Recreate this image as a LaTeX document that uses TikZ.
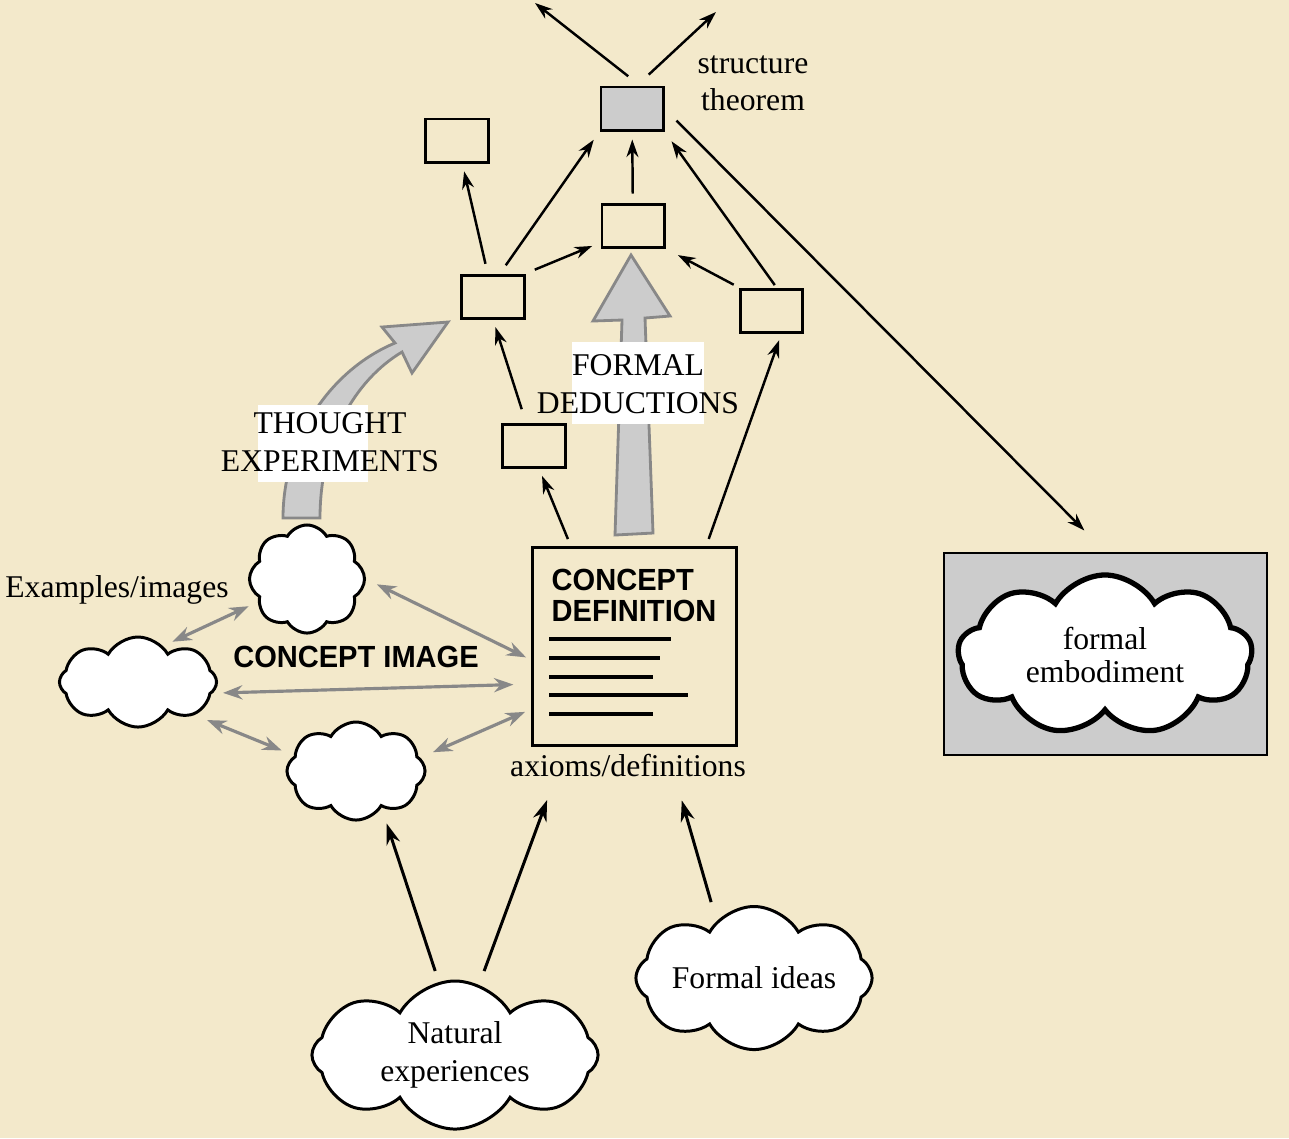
\documentclass[tikz,border=0pt]{standalone}
\usepackage{fontspec}
\setmainfont{Liberation Serif}
\setsansfont{Liberation Sans}
\newfontfamily\capsfont{Liberation Sans}[FakeStretch=0.95]
\usetikzlibrary{arrows.meta,shapes.symbols}
\definecolor{paper}{RGB}{243,233,203}
\definecolor{shade}{RGB}{204,204,204}
\definecolor{dimline}{RGB}{136,136,136}

\begin{document}
\begin{tikzpicture}[x=0.01cm, y=-0.01cm]
  \tikzstyle{every node} = [font=\fontsize{9}{11}\selectfont];
  \tikzstyle{sbox} = [draw, line width=0.85pt, minimum width=0.62cm, minimum height=0.43cm, inner sep=0pt];
  \tikzstyle{puff} = [cloud, cloud puffs=8, cloud puff arc=120, cloud ignores aspect, draw, line width=0.85pt, fill=white, inner sep=0pt, align=center];
  \tikzstyle{blk} = [-{Stealth[length=5pt,width=3.4pt]}, line width=0.7pt];
  \tikzstyle{bigblk} = [-{Stealth[length=6pt,width=4pt]}, line width=0.85pt];
  \tikzstyle{gry} = [{Stealth[length=5.5pt,width=4pt]}-{Stealth[length=5.5pt,width=4pt]}, draw=dimline, line width=0.9pt];
  \tikzstyle{fat} = [fill=shade, draw=dimline, line width=0.8pt, line join=miter];
  \tikzstyle{caps} = [font=\capsfont\bfseries\fontsize{8.7}{8.8}\selectfont];

  \useasboundingbox (0,0) rectangle (1289,1138);
  \fill[paper] (0,0) rectangle (1289,1138);

  \filldraw[fat] (615,535) -- (622,320) -- (593,321) -- (631,255) -- (670,316)
    -- (645,318) -- (653,533) -- cycle;
  \filldraw[fat] (283,518) .. controls (283,440) and (330,370) .. (395,343)
    -- (382,327) -- (448,322) -- (412,373) -- (402,352)
    .. controls (355,380) and (320,440) .. (320,518) -- cycle;

  \node (tebg) [fill=white, minimum width=1.1cm, minimum height=0.77cm, inner sep=0pt] at (313,443.5) {};
  \node (te) [align=center] at (330,442) {THOUGHT\\EXPERIMENTS};
  \node (fdbg) [fill=white, minimum width=1.32cm, minimum height=0.82cm, inner sep=0pt] at (638,383) {};
  \node (fd) [align=center] at (638,384) {FORMAL\\DEDUCTIONS};

  \node (S) [sbox, fill=shade] at (632,108.5) {};
  \node (TL) [sbox] at (457,140.5) {};
  \node (M) [sbox] at (633,225.5) {};
  \node (L) [sbox] at (493,296.5) {};
  \node (R) [sbox] at (771.5,310.5) {};
  \node (D) [sbox] at (534,445.5) {};
  \node (st) [align=center, font=\fontsize{9}{10.5}\selectfont] at (753,83) {structure\\theorem};

  \node (CD) [draw, line width=0.85pt, minimum width=2.03cm, minimum height=1.97cm, inner sep=0pt] at (634.5,646.5) {};
  \node (cdt) [caps, align=left, anchor=north west, inner sep=0pt] at (551,568) {CONCEPT\\DEFINITION};
  \foreach \y/\e in {639/671, 658/660, 677/653, 695/688, 714/653}
    \draw[line width=1.4pt] (549,\y) -- (\e,\y);
  \node (ax) [inner sep=2pt] at (628,765) {axioms/definitions};

  \node (FE) [draw, line width=0.7pt, fill=shade, minimum width=3.23cm, minimum height=2.02cm, inner sep=0pt] at (1105.5,654) {};
  \node (FEc) [puff, cloud puffs=9, line width=1.5pt, minimum width=2.94cm, minimum height=1.6cm, font=\fontsize{9}{9.2}\selectfont] at (1105,655) {formal\\embodiment};

  \node (A) [puff] [minimum width=1.15cm, minimum height=1.08cm] at (307,579) {};
  \node (B) [puff, minimum width=1.57cm, minimum height=0.9cm] at (138,682) {};
  \node (C) [puff, minimum width=1.38cm, minimum height=0.98cm] at (356,771) {};
  \node (NE) [puff, minimum width=2.86cm, minimum height=1.48cm] at (455,1055) {Natural\\experiences};
  \node (FI) [puff, minimum width=2.36cm, minimum height=1.43cm] at (754,978) {Formal ideas};
  \node (ex) at (117,590) {Examples/images};
  \node (ci) [caps] at (356,657) {CONCEPT IMAGE};

  \coordinate (up1) at (535,3);
  \coordinate (up2) at (716,12);
  \draw[blk, shorten <=0.15cm] ([xshift=0.08cm]S.north) -- (up1);
  \draw[blk, shorten <=0.16cm] ([xshift=0.05cm]S.north) -- (up2);
  \draw[blk, shorten <=0.1cm, shorten >=0.08cm] (L) -- (TL);
  \draw[blk, shorten <=0.1cm, shorten >=0.1cm] ([xshift=0.07cm]L.north) -- (S.south west);
  \draw[blk, shorten <=0.1cm, shorten >=0.09cm] (L.north east) -- ([yshift=0.06cm]M.south west);
  \draw[blk, shorten <=0.09cm, shorten >=0.08cm] (M) -- (S);
  \draw[blk, shorten <=0.03cm, shorten >=0.12cm] ([xshift=0.05cm]R.north) -- (S.south east);
  \draw[blk, shorten <=0.06cm, shorten >=0.14cm] (R.north west) -- (M.south east);
  \draw[blk, shorten <=0.14cm, shorten >=0.08cm] ([xshift=-0.08cm]D.north) -- (L.south);
  \draw[blk, shorten <=0.08cm, shorten >=0.08cm] ([xshift=-0.635cm]CD.north) -- ([xshift=0.05cm]D.south);
  \draw[blk, shorten <=0.08cm, shorten >=0.07cm] ([xshift=0.715cm]CD.north) -- ([xshift=0.1cm]R.south);
  \draw[blk, shorten <=0.17cm, shorten >=0.3cm] (S.east) -- (FE.north);

  \draw[gry, shorten <=0.1cm, shorten >=0.1cm] (A.205) -- (B.55);
  \draw[gry, shorten <=0.12cm, shorten >=0.06cm] (A.east) -- ([yshift=-0.135cm]CD.west);
  \draw[gry, shorten <=0.05cm, shorten >=0.18cm] ([yshift=-0.11cm]B.east) -- ([yshift=-0.375cm]CD.west);
  \draw[gry, shorten >=0.04cm] ([shift={(0.69cm,-0.38cm)}]B.center) -- ([yshift=0.19cm]C.west);
  \draw[gry, shorten <=0.07cm, shorten >=0.07cm] ([yshift=0.16cm]C.east) -- ([yshift=-0.625cm]CD.west);

  \draw[bigblk, shorten <=0.09cm, shorten >=0.02cm] ([xshift=-0.17cm]NE.north) -- ([xshift=0.3cm]C.south);
  \draw[bigblk, shorten <=0.09cm, shorten >=0.17cm] ([xshift=0.26cm]NE.north) -- ([xshift=-0.75cm]ax.south);
  \draw[bigblk, shorten <=0.03cm, shorten >=0.17cm] ([xshift=-0.42cm]FI.north) -- ([xshift=0.49cm]ax.south);
\end{tikzpicture}
\end{document}
